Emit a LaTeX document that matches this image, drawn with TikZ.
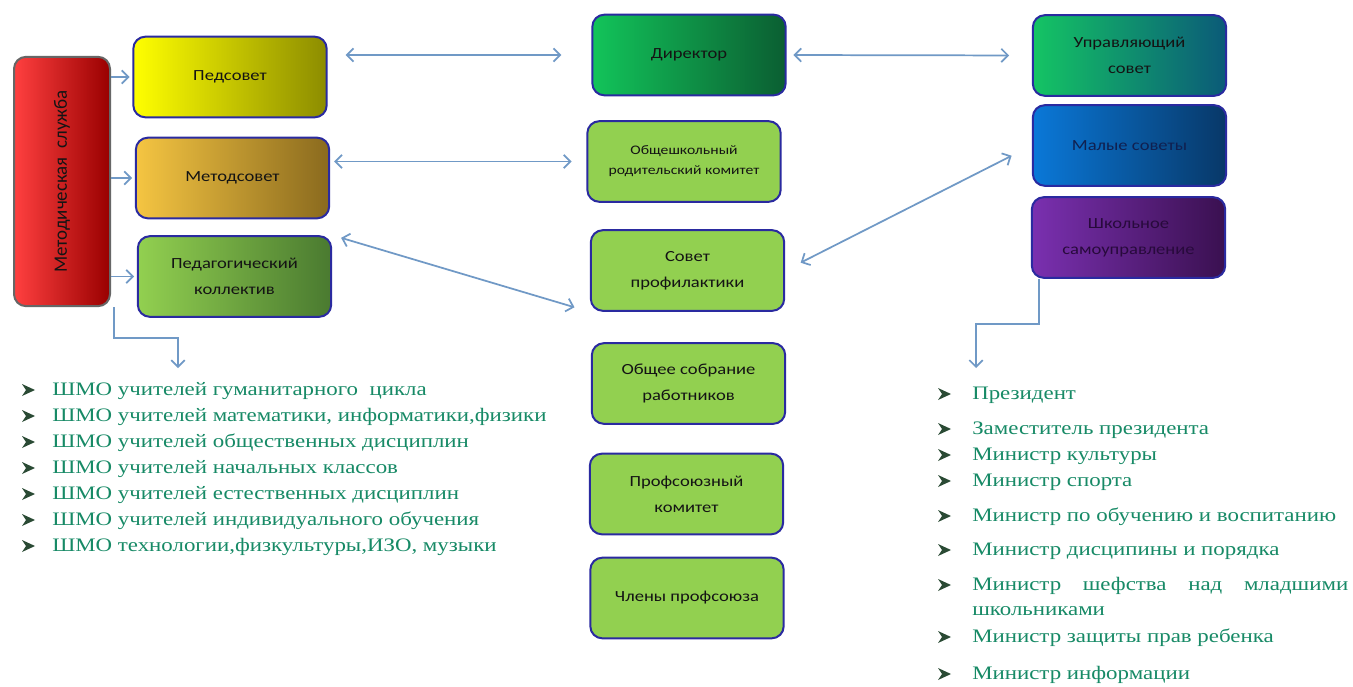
\documentclass[tikz,border=0pt]{standalone}
\usepackage{fontspec}
\setmainfont{Liberation Serif}[FakeStretch=1.2]
\newfontfamily\boxfont{Carlito}[FakeStretch=1.2]
\newfontfamily\sidefont{Carlito}
\usetikzlibrary{arrows.meta}
\definecolor{boxborder}{HTML}{2A2AA0}
\definecolor{conc}{HTML}{7099C6}
\definecolor{lgreen}{HTML}{92D050}
\definecolor{listc}{HTML}{178A66}
\definecolor{bulc}{HTML}{2A4A34}
\tikzset{
  box/.style={draw=boxborder, line width=1.5pt, rounded corners=9pt, inner sep=0pt,
    align=center, text=black!92, minimum width=145pt, minimum height=60.5pt,
    font=\boxfont\fontsize{11.6}{19.5}\selectfont},
  flat/.style={box, fill=lgreen},
  con/.style={draw=conc, line width=1.3pt},
  bul/.style={fill=bulc},
  li/.style={anchor=mid west, text=listc, inner sep=0pt, font=\fontsize{14.3}{16}\selectfont},
  >={Straight Barb[length=5pt,width=10pt]}
}
\begin{document}
\begin{tikzpicture}[x=0.75pt,y=-0.75pt]
\fill[white] (0,0) rectangle (1353,686);
\useasboundingbox (0,0) rectangle (1353,686);
% left column
\node[box, draw=black!60, left color=red!75!white!100, right color=red!60!black, minimum width=72pt, minimum height=187pt] (ms) at (62,181.5)
  {\rotatebox{90}{\sidefont\fontsize{14.2}{16}\selectfont Методическая\ \ служба}};
\node[box, left color=yellow, right color=yellow!55!black] (ped) at (230,77) {Педсовет};
\node[box, left color={rgb,255:red,245;green,197;blue,66}, right color={rgb,255:red,138;green,106;blue,30}] (met) at (232.5,178) {Методсовет};
\node[box, left color=lgreen, right color={rgb,255:red,74;green,122;blue,48}] (pk) at (234.5,276.5) {Педагогический\\коллектив};
% center column
\node[box, left color={rgb,255:red,18;green,196;blue,90}, right color={rgb,255:red,11;green,94;blue,50}] (dir) at (689,55) {Директор};
\node[flat, font=\boxfont\fontsize{9.8}{15}\selectfont] (orc) at (684,161.5) {Общешкольный\\родительский комитет};
\node[flat] (sp) at (687.5,270.5) {Совет\\профилактики};
\node[flat] (osr) at (688.5,383.5) {Общее собрание\\работников};
\node[flat] (prk) at (686.5,494) {Профсоюзный\\комитет};
\node[flat] (chp) at (687,598) {Члены профсоюза};
% right column
\node[box, left color={rgb,255:red,20;green,196;blue,100}, right color={rgb,255:red,11;green,90;blue,120}] (us) at (1129.5,55.5) {Управляющий\\совет};
\node[box, left color={rgb,255:red,10;green,120;blue,216}, right color={rgb,255:red,8;green,56;blue,104}, text={rgb,255:red,16;green,32;blue,80}] (msv) at (1129.5,145.5) {Малые советы};
\node[box, left color={rgb,255:red,122;green,48;blue,176}, right color={rgb,255:red,58;green,16;blue,80}, text={rgb,255:red,40;green,10;blue,60}] (shs) at (1128.5,237.5) {Школьное\\самоуправление};
% connectors
\draw[con,->,shorten >=2pt] (ms.east |- ped.west) -- (ped.west);
\draw[con,->,shorten >=2pt] (ms.east |- met.west) -- (met.west);
\draw[con,->,shorten >=2pt] (ms.east |- pk.west) -- (pk.west);
\coordinate (l1) at (178,368);
\draw[con,->] ([xshift=2pt]ms.south east) -- ++(0,31) -| (l1);
\draw[con,<->,shorten <=13.5pt,shorten >=22.5pt] (ped.east |- dir.west) -- (dir.west);
\draw[con,<->,shorten <=3pt,shorten >=11pt] (met.east |- orc.west) -- (orc.west);
\draw[con,<->,shorten <=7pt,shorten >=12pt] (pk.north east) -- (sp.south west);
\draw[con,<->,shorten <=5pt,shorten >=17pt] (dir.east) -- (us.west);
\draw[con,<->,shorten <=13pt,shorten >=17pt] (sp.east) -- (msv.west);
\coordinate (l2) at (976,368);
\draw[con,->] ([xshift=6pt]shs.south west) -- ++(0,45) -| (l2);
% left list
\foreach \y/\t in {392/{ШМО учителей гуманитарного\ \ цикла},
  418/{ШМО учителей математики, информатики,физики},
  444/{ШМО учителей общественных дисциплин},
  470/{ШМО учителей начальных классов},
  496/{ШМО учителей естественных дисциплин},
  522/{ШМО учителей индивидуального обучения},
  548/{ШМО технологии,физкультуры,ИЗО, музыки}}{
  \fill[bul] (22,\y-8) -- (35,\y-2) -- (22,\y+4) -- (26,\y-2) -- cycle;
  \node[li] at (52,\y) {\t};
}
% right list
\foreach \y/\t in {396/{Президент},
  431/{Заместитель президента},
  457/{Министр культуры},
  483/{Министр спорта},
  518/{Министр по обучению и воспитанию},
  552/{Министр дисципины и порядка},
  587/{\makebox[282pt][s]{Министр шефства над младшими}},
  639/{Министр защиты прав ребенка},
  676/{Министр информации}}{
  \fill[bul] (938,\y-8) -- (951,\y-2) -- (938,\y+4) -- (942,\y-2) -- cycle;
  \node[li] at (972,\y) {\t};
}
\node[li] at (972,612) {школьниками};
\end{tikzpicture}
\end{document}
